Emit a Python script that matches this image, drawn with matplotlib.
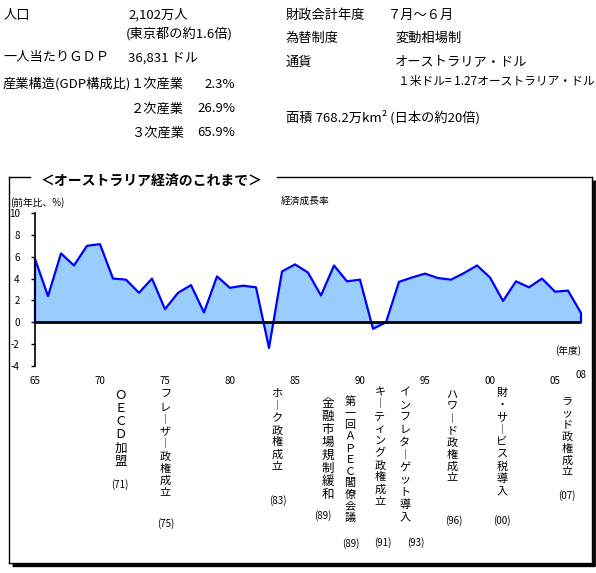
import matplotlib
matplotlib.use("Agg")
import matplotlib.pyplot as plt
from matplotlib.transforms import blended_transform_factory

plt.rcParams['font.family'] = ['Noto Sans CJK JP', 'DejaVu Sans']

# ---------------- data ----------------
years = list(range(1965, 2008))
growth = [5.8, 2.4, 6.3, 5.2, 7.0, 7.15, 4.0, 3.9, 2.7, 4.0,
          1.2, 2.7, 3.4, 0.9, 4.2, 3.15, 3.35, 3.2, -2.35, 4.65,
          5.3, 4.55, 2.45, 5.2, 3.75, 3.9, -0.6, 0.0, 3.7, 4.1,
          4.45, 4.05, 3.9, 4.5, 5.2, 4.1, 1.95, 3.75, 3.2, 4.0,
          2.8, 2.9, 0.85]
xtick_years = [1965, 1970, 1975, 1980, 1985, 1990, 1995, 2000, 2005]
xtick_labels = ["65", "70", "75", "80", "85", "90", "95", "00", "05"]
last_label = "08"
ytick_values = [-4, -2, 0, 2, 4, 6, 8, 10]

events = ["ＯＥＣＤ加盟", "フレーザー政権成立", "ホーク政権成立", "金融市場規制緩和",
          "第一回ＡＰＥＣ閣僚会議", "キーティング政権成立", "インフレターゲット導入",
          "ハワード政権成立", "財・サービス税導入", "ラッド政権成立"]
event_years = ["(71)", "(75)", "(83)", "(89)", "(89)", "(91)", "(93)", "(96)", "(00)", "(07)"]

# ---------------- figure ----------------
W, H = 596, 573
fig = plt.figure(figsize=(W / 100, H / 100), dpi=100)
fig.patch.set_facecolor('white')

ov = fig.add_axes([0, 0, 1, 1])
ov.set_xlim(0, W)
ov.set_ylim(H, 0)
ov.axis('off')

fs = 9.5
# top info block
info = [
    ("人口", 4, 15, fs), ("2,102万人", 128, 15, fs), ("(東京都の約1.6倍)", 126, 34, fs),
    ("一人当たりＧＤＰ", 3, 58, fs), ("36,831 ドル", 128, 58, fs),
    ("産業構造(GDP構成比)", 3, 84, fs), ("１次産業", 131, 84, fs),
    ("２次産業", 131, 109, fs), ("３次産業", 131, 133, fs),
    ("財政会計年度", 286, 15, fs), ("７月～６月", 388, 15, fs),
    ("為替制度", 286, 38, fs), ("変動相場制", 395, 38, fs),
    ("通貨", 286, 62, fs), ("オーストラリア・ドル", 395, 62, fs),
    ("１米ドル= 1.27オーストラリア・ドル", 398, 81, 8.5),
    ("面積 768.2万km² (日本の約20倍)", 286, 117, fs),
]
for s, x, y, f in info:
    ov.text(x, y, s, fontsize=f, ha='left', va='center')
for s, y in [("2.3%", 84), ("26.9%", 109), ("65.9%", 133)]:
    ov.text(235, y, s, fontsize=fs, ha='right', va='center')

# frame with shadow
k = 'black'
ov.plot([9, 30], [177, 177], color=k, lw=1)
ov.plot([277, 592], [177, 177], color=k, lw=1)
ov.plot([9, 9], [177, 563], color=k, lw=1)
ov.plot([592, 592], [177, 563], color=k, lw=1)
ov.plot([9, 592], [563, 563], color=k, lw=1)
ov.plot([12, 594.5], [564.5, 564.5], color=k, lw=2.4, solid_capstyle='butt')
ov.plot([593.5, 593.5], [180, 565.5], color=k, lw=2.0, solid_capstyle='butt')

ov.text(152, 181, "＜オーストラリア経済のこれまで＞", fontsize=10, fontweight='bold',
        ha='center', va='center')
ov.text(10, 203, "(前年比、%)", fontsize=7, ha='left', va='center')
ov.text(305, 201, "経済成長率", fontsize=7, ha='center', va='center')
ov.text(568, 351, "(年度)", fontsize=7, ha='center', va='center')

# vertical event annotations
ev_layout = [
    (120.5, 395, 13.3, 120, 485, 9),
    (165.5, 395, 12.3, 166, 524, 8),
    (277, 394, 12.1, 278, 501, 8),
    (328, 403, 13.1, 323, 516, 9),
    (350, 402, 11.6, 351, 544, 8),
    (380, 392, 12.2, 383, 543, 8),
    (405, 393, 12.4, 416, 543, 8),
    (452, 395, 11.9, 454, 521, 8),
    (502, 393, 12.3, 502, 521, 8),
    (567, 402, 11.7, 567, 496, 8),
]
for s, yr, (x, ytop, step, px, py, f) in zip(events, event_years, ev_layout):
    for i, ch in enumerate(s):
        if ch == 'ー':
            ch = '\ufe31'
        ov.text(x, ytop + i * step, ch, fontsize=f, ha='center', va='center')
    ov.text(px, py, yr, fontsize=7, ha='center', va='center')

# ---------------- chart ----------------
x0, x1, ytop, ybot = 35, 581, 213, 366
ax = fig.add_axes([x0 / W, (H - ybot) / H, (x1 - x0) / W, (ybot - ytop) / H])
ax.patch.set_alpha(0)
ax.set_xlim(years[0], years[-1])
ax.set_ylim(-4, 10)
ax.fill_between(years, growth, 0, color='#99CCFF', linewidth=0, zorder=1)
ax.plot([years[0]] + years + [years[-1]], [0] + growth + [0],
        color='#0000FF', lw=1.6, zorder=2, clip_on=False)
ax.axhline(0, color='black', lw=2, zorder=3)

for sp in ['top', 'right', 'bottom']:
    ax.spines[sp].set_visible(False)
ax.spines['left'].set_linewidth(1.2)
ax.set_yticks(ytick_values)
ax.set_yticklabels([str(v) for v in ytick_values])
ax.tick_params(axis='y', direction='out', length=3, width=1, pad=8, labelsize=7)
ax.set_xticks(xtick_years)
ax.set_xticklabels(xtick_labels)
ax.tick_params(axis='x', length=0, pad=7, labelsize=7)
tr = blended_transform_factory(ax.transData, ov.transData)
ax.text(years[-1], 375, last_label, transform=tr, fontsize=7, ha='center', va='center')

fig.savefig("out.png", dpi=100)
